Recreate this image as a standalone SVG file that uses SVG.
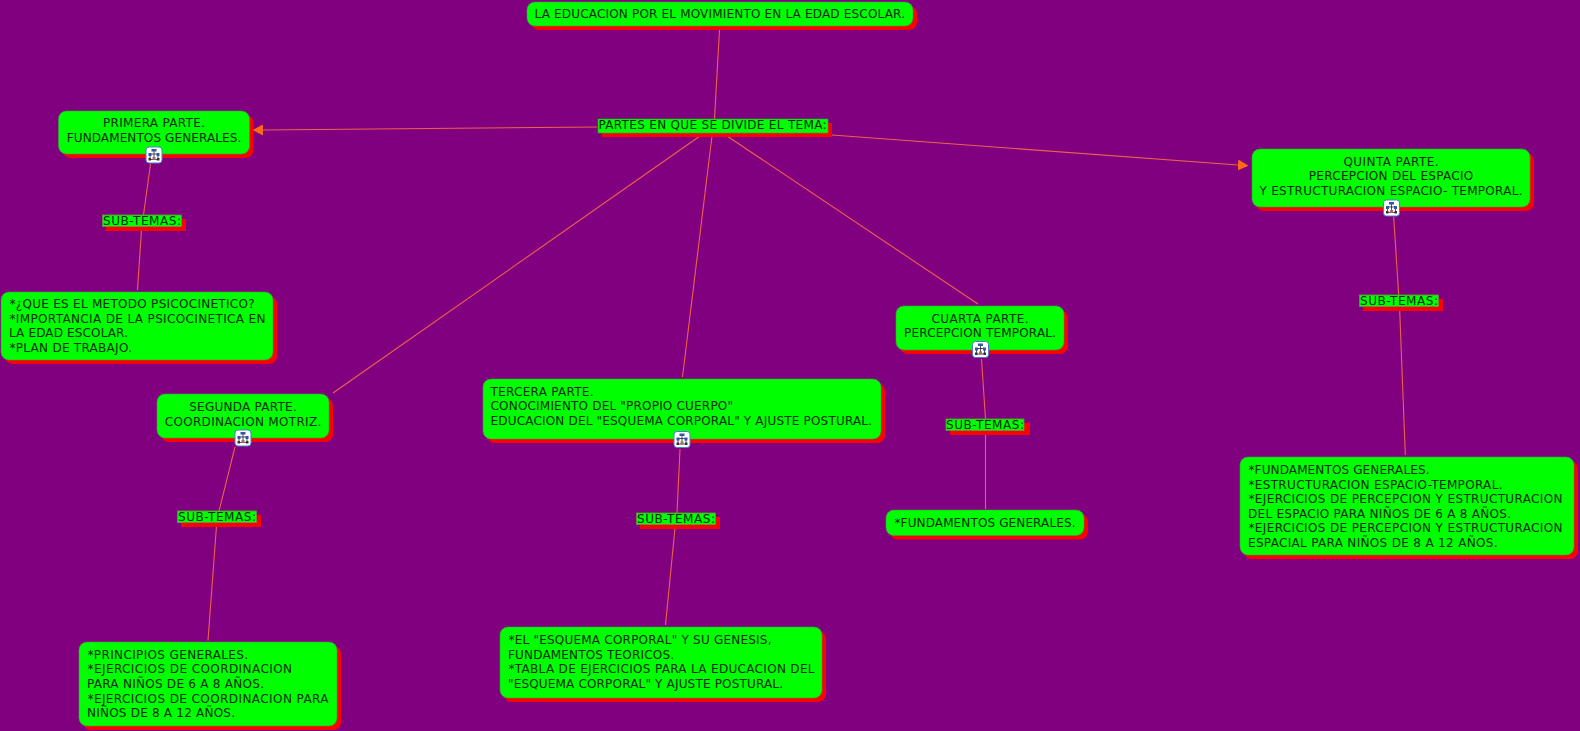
<svg xmlns="http://www.w3.org/2000/svg" width="1580" height="731" viewBox="0 0 1580 731">
<style>
text{font-family:"DejaVu Sans",Verdana,sans-serif;font-size:12px;fill:#002a00}
.c{text-anchor:middle}
.s{fill:#f00}
.b{fill:#0f0;stroke:#3c9a3c;stroke-width:.6}
.l{fill:#0f0;stroke:#6f8f3f;stroke-width:.8}
#connectors line{stroke:#ef6248;stroke-width:1.1}
</style>
<defs>
<marker id="a" markerUnits="userSpaceOnUse" markerWidth="12" markerHeight="12" refX="0" refY="5.5" orient="auto"><path d="M0 0L10.500 5.500L0 11z" fill="#ff6a14"/></marker>
<g id="ic">
<rect x="0.5" y="0.5" width="16" height="16" rx="3" fill="#fff" stroke="#4a7fd0"/>
<path d="M8.500 4V11M4.500 7.500H12.500M4.500 7.500V12M12.500 7.500V12M4.500 13H12.500" stroke="#223" fill="none" stroke-width=".8"/>
<rect x="6" y="2.500" width="5" height="2.500" fill="#3355aa"/><rect x="3" y="6.500" width="3" height="3" fill="#3355aa"/><rect x="11" y="6.500" width="3" height="3" fill="#3355aa"/><rect x="3" y="11.500" width="2.500" height="2.500" fill="#333"/><rect x="7" y="10.500" width="3" height="3" fill="#a66"/><rect x="11.500" y="11.500" width="2.500" height="2.500" fill="#333"/>
</g>
</defs>
<rect width="1580" height="731" fill="#800080"/>
<g id="connectors">
<line x1="719.500" y1="30" x2="714.500" y2="119"/>
<line x1="597" y1="127" x2="263" y2="130" marker-end="url(#a)"/>
<line x1="832" y1="135" x2="1238" y2="165" marker-end="url(#a)"/>
<line x1="700" y1="136" x2="333" y2="393"/>
<line x1="712" y1="136" x2="682.500" y2="377"/>
<line x1="727" y1="136" x2="978" y2="304"/>
<line x1="150.500" y1="164" x2="143.500" y2="215"/>
<line x1="141.500" y1="230" x2="137.500" y2="290"/>
<line x1="235" y1="447" x2="219" y2="511"/>
<line x1="216.500" y1="526" x2="208" y2="640.500"/>
<line x1="680" y1="449" x2="677" y2="513"/>
<line x1="675" y1="528" x2="665.500" y2="625"/>
<line x1="981.500" y1="359" x2="985.500" y2="419"/>
<line x1="985.500" y1="434" x2="985.500" y2="509"/>
<line x1="1393.700" y1="217" x2="1398.700" y2="295"/>
<line x1="1399.700" y1="310" x2="1405.300" y2="455"/>
</g>
<g id="n1"><rect class="s" x="531" y="6" width="386" height="24" rx="8"/><rect class="b" x="527" y="2" width="386" height="24" rx="8"/><text x="534.500" y="18" textLength="370.500">LA EDUCACION POR EL MOVIMIENTO EN LA EDAD ESCOLAR.</text></g>
<g id="n2"><rect class="s" x="602" y="123" width="230" height="14"/><rect class="b" x="598" y="119" width="230" height="14"/><text x="598.500" y="129" textLength="228">PARTES EN QUE SE DIVIDE EL TEMA:</text></g>
<g id="n3"><rect class="s" x="62.500" y="115" width="191" height="43" rx="8"/><rect class="b" x="58.500" y="111" width="191" height="43" rx="8"/><text class="c" x="154" y="127" textLength="102">PRIMERA PARTE.</text><text class="c" x="154" y="142" textLength="174.500">FUNDAMENTOS GENERALES.</text><use href="#ic" x="145.500" y="146.500"/></g>
<g id="n4"><rect class="s" x="1256" y="153" width="278" height="58" rx="8"/><rect class="b" x="1252" y="149" width="278" height="58" rx="8"/><text class="c" x="1391" y="166" textLength="95">QUINTA PARTE.</text><text class="c" x="1391" y="180" textLength="164.500">PERCEPCION DEL ESPACIO</text><text class="c" x="1391" y="195" textLength="263">Y ESTRUCTURACION ESPACIO- TEMPORAL.</text><use href="#ic" x="1383" y="199.500"/></g>
<g id="n5"><rect class="s" x="161" y="398" width="172" height="44" rx="8"/><rect class="b" x="157" y="394" width="172" height="44" rx="8"/><text class="c" x="243" y="411" textLength="107.500">SEGUNDA PARTE.</text><text class="c" x="243" y="425.500" textLength="156.500">COORDINACION MOTRIZ.</text><use href="#ic" x="234.500" y="429.500"/></g>
<g id="n6"><rect class="s" x="487" y="383" width="398" height="60" rx="8"/><rect class="b" x="483" y="379" width="398" height="60" rx="8"/><text x="490.500" y="396" textLength="103">TERCERA PARTE.</text><text x="490.500" y="410" textLength="242.500">CONOCIMIENTO DEL "PROPIO CUERPO"</text><text x="490.500" y="425" textLength="381.500">EDUCACION DEL "ESQUEMA CORPORAL" Y AJUSTE POSTURAL.</text><use href="#ic" x="673.500" y="431"/></g>
<g id="n7"><rect class="s" x="900" y="310" width="168" height="44" rx="8"/><rect class="b" x="896" y="306" width="168" height="44" rx="8"/><text class="c" x="980" y="323" textLength="97">CUARTA PARTE.</text><text class="c" x="980" y="337" textLength="152">PERCEPCION TEMPORAL.</text><use href="#ic" x="972" y="341"/></g>
<g id="n8"><rect class="s" x="5" y="296" width="272" height="68" rx="8"/><rect class="b" x="1" y="292" width="272" height="68" rx="8"/><text x="9.500" y="308" textLength="245">*¿QUE ES EL METODO PSICOCINETICO?</text><text x="9.500" y="323" textLength="256">*IMPORTANCIA DE LA PSICOCINETICA EN</text><text x="9" y="337" textLength="119">LA EDAD ESCOLAR.</text><text x="9.500" y="352" textLength="122.500">*PLAN DE TRABAJO.</text></g>
<g id="n9"><rect class="s" x="83" y="646" width="258" height="84" rx="8"/><rect class="b" x="79" y="642" width="258" height="84" rx="8"/><text x="87.500" y="659" textLength="160.500">*PRINCIPIOS GENERALES.</text><text x="87.500" y="673" textLength="204.500">*EJERCICIOS DE COORDINACION</text><text x="87" y="688" textLength="177">PARA NIÑOS DE 6 A 8 AÑOS.</text><text x="87.500" y="703" textLength="241">*EJERCICIOS DE COORDINACION PARA</text><text x="87" y="717" textLength="148">NIÑOS DE 8 A 12 AÑOS.</text></g>
<g id="n10"><rect class="s" x="504" y="631" width="322" height="71" rx="8"/><rect class="b" x="500" y="627" width="322" height="71" rx="8"/><text x="508.500" y="644" textLength="263">*EL "ESQUEMA CORPORAL" Y SU GENESIS,</text><text x="508" y="659" textLength="166">FUNDAMENTOS TEORICOS.</text><text x="508.500" y="673" textLength="306">*TABLA DE EJERCICIOS PARA LA EDUCACION DEL</text><text x="508" y="688" textLength="275">"ESQUEMA CORPORAL" Y AJUSTE POSTURAL.</text></g>
<g id="n11"><rect class="s" x="890" y="514" width="198" height="25.500" rx="8"/><rect class="b" x="886" y="510" width="198" height="25.500" rx="8"/><text x="894.500" y="527" textLength="181">*FUNDAMENTOS GENERALES.</text></g>
<g id="n12"><rect class="s" x="1244" y="461" width="334" height="98" rx="8"/><rect class="b" x="1240" y="457" width="334" height="98" rx="8"/><text x="1248.500" y="474" textLength="181">*FUNDAMENTOS GENERALES.</text><text x="1248.500" y="488.500" textLength="254">*ESTRUCTURACION ESPACIO-TEMPORAL.</text><text x="1248.500" y="503" textLength="314">*EJERCICIOS DE PERCEPCION Y ESTRUCTURACION</text><text x="1248" y="517.500" textLength="263">DEL ESPACIO PARA NIÑOS DE 6 A 8 AÑOS.</text><text x="1248.500" y="532" textLength="314">*EJERCICIOS DE PERCEPCION Y ESTRUCTURACION</text><text x="1248" y="547" textLength="249.500">ESPACIAL PARA NIÑOS DE 8 A 12 AÑOS.</text></g>
<g id="s1"><rect class="s" x="106" y="219" width="80" height="12"/><rect class="l" x="102.500" y="215" width="79" height="11.500"/><text x="103" y="225" textLength="78">SUB-TEMAS:</text></g>
<g id="s2"><rect class="s" x="181" y="515" width="80" height="12"/><rect class="l" x="177.500" y="511" width="79" height="11.500"/><text x="178" y="521" textLength="78">SUB-TEMAS:</text></g>
<g id="s3"><rect class="s" x="640" y="517" width="80" height="12"/><rect class="l" x="636.500" y="513" width="79" height="11.500"/><text x="637" y="523" textLength="78">SUB-TEMAS:</text></g>
<g id="s4"><rect class="s" x="950" y="423" width="80" height="12"/><rect class="l" x="946" y="419" width="78" height="11.500"/><text x="946" y="429" textLength="78">SUB-TEMAS:</text></g>
<g id="s5"><rect class="s" x="1363" y="299" width="80" height="12"/><rect class="l" x="1359.500" y="295" width="79" height="11.500"/><text x="1360" y="305" textLength="78">SUB-TEMAS:</text></g>
</svg>
